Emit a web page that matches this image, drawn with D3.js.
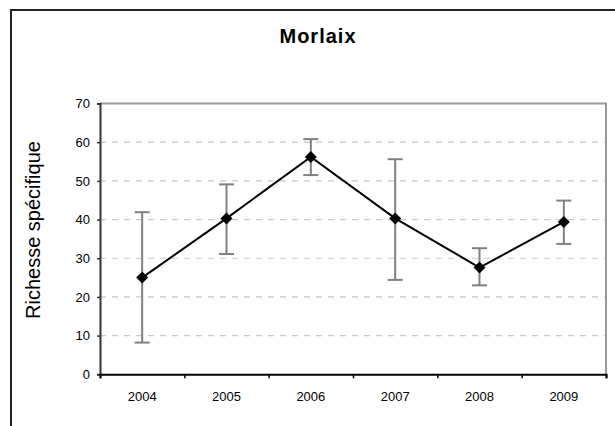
<!DOCTYPE html>
<html>
<head>
<meta charset="utf-8">
<script src="https://cdn.jsdelivr.net/npm/d3@7"></script>
<style>
  body { margin: 0; background: #fff; }
  text { font-family: Arial, "Liberation Sans", sans-serif; }
</style>
</head>
<body>
<div id="chart"></div>
<script>
// data
var years = ["2004", "2005", "2006", "2007", "2008", "2009"];
var means = [25.0, 40.3, 56.2, 40.3, 27.6, 39.4];
var upper = [41.9, 49.1, 60.8, 55.6, 32.6, 44.9];
var lower = [8.2, 31.1, 51.5, 24.4, 23.0, 33.7];
var yTicks = [0, 10, 20, 30, 40, 50, 60, 70];

var data = years.map(function (y, i) {
  return {year: y, mean: means[i], hi: upper[i], lo: lower[i]};
});

var W = 615, H = 426;
var margin = {top: 103.5, right: 9, bottom: 51.7, left: 100},
    width = W - margin.left - margin.right,
    height = H - margin.top - margin.bottom;

var svg = d3.select("#chart")
  .append("svg")
    .attr("width", W)
    .attr("height", H);

// outer chart frame (only top and left edges show, the rest is cropped)
svg.append("path")
  .attr("d", "M11," + H + "V10H" + W)
  .attr("fill", "none")
  .attr("stroke", "#222")
  .attr("stroke-width", 2);

// title
svg.append("text")
  .attr("x", 318)
  .attr("y", 43)
  .attr("text-anchor", "middle")
  .style("font-size", "20px")
  .style("font-weight", "bold")
  .style("letter-spacing", "1px")
  .text("Morlaix");

var g = svg.append("g")
  .attr("transform", "translate(" + margin.left + "," + margin.top + ")");

var x = d3.scaleBand()
  .domain(years)
  .range([0, width]);

var y = d3.scaleLinear()
  .domain([0, 70])
  .range([height, 0]);

// dashed gridlines
g.append("g")
  .selectAll("line")
  .data(yTicks.filter(function (t) { return t > 0 && t < 70; }))
  .enter()
  .append("line")
    .attr("x1", 0)
    .attr("x2", width)
    .attr("y1", function (d) { return y(d); })
    .attr("y2", function (d) { return y(d); })
    .attr("stroke", "#c8c8c8")
    .attr("stroke-width", 1.2)
    .attr("stroke-dasharray", "6,6");

// top and right border of plot area
g.append("path")
  .attr("d", "M0," + y(70) + "H" + width + "V" + height)
  .attr("fill", "none")
  .attr("stroke", "#999")
  .attr("stroke-width", 2);

// y axis
var yAxis = g.append("g")
  .call(d3.axisLeft(y).tickValues(yTicks).tickSize(3).tickPadding(7));
yAxis.select(".domain").attr("stroke", "#333").attr("stroke-width", 2);
yAxis.selectAll(".tick line").attr("stroke", "#333").attr("stroke-width", 1.5);
yAxis.selectAll("text")
  .style("font-size", "13px")
  .attr("fill", "#000");

// x axis: ticks sit on the band edges, labels in the middle
var xEdge = d3.scaleLinear().domain([0, years.length]).range([0, width]);
var xTickAxis = g.append("g")
  .attr("transform", "translate(0," + height + ")")
  .call(d3.axisBottom(xEdge).tickValues(d3.range(years.length + 1)).tickSize(4).tickFormat(""));
xTickAxis.select(".domain").attr("stroke", "#000").attr("stroke-width", 2);
xTickAxis.selectAll(".tick line").attr("stroke", "#000").attr("stroke-width", 1.5);

var xLabelAxis = g.append("g")
  .attr("transform", "translate(0," + height + ")")
  .call(d3.axisBottom(x).tickSize(0).tickPadding(17.5));
xLabelAxis.select(".domain").remove();
xLabelAxis.selectAll("text")
  .style("font-size", "13px")
  .attr("fill", "#000");

// y axis title
svg.append("text")
  .attr("transform", "translate(40," + 230 + ") rotate(-90)")
  .attr("text-anchor", "middle")
  .style("font-size", "20px")
  .text("Richesse spécifique");

var cx = function (d) { return x(d.year) + x.bandwidth() / 2; };

// error bars
var eb = g.append("g").attr("stroke", "#808080").attr("stroke-width", 2);
eb.selectAll(".stem")
  .data(data)
  .enter()
  .append("line")
    .attr("x1", cx).attr("x2", cx)
    .attr("y1", function (d) { return y(d.hi); })
    .attr("y2", function (d) { return y(d.lo); });
eb.selectAll(".capHi")
  .data(data)
  .enter()
  .append("line")
    .attr("x1", function (d) { return cx(d) - 7.5; })
    .attr("x2", function (d) { return cx(d) + 7.5; })
    .attr("y1", function (d) { return y(d.hi); })
    .attr("y2", function (d) { return y(d.hi); });
eb.selectAll(".capLo")
  .data(data)
  .enter()
  .append("line")
    .attr("x1", function (d) { return cx(d) - 7.5; })
    .attr("x2", function (d) { return cx(d) + 7.5; })
    .attr("y1", function (d) { return y(d.lo); })
    .attr("y2", function (d) { return y(d.lo); });

// line
g.append("path")
  .datum(data)
  .attr("fill", "none")
  .attr("stroke", "#000")
  .attr("stroke-width", 2)
  .attr("d", d3.line().x(cx).y(function (d) { return y(d.mean); }));

// diamond markers
g.append("g")
  .selectAll("path")
  .data(data)
  .enter()
  .append("path")
    .attr("transform", function (d) { return "translate(" + cx(d) + "," + y(d.mean) + ") rotate(45)"; })
    .attr("d", d3.symbol().type(d3.symbolSquare).size(72))
    .attr("fill", "#000");
</script>
</body>
</html>
